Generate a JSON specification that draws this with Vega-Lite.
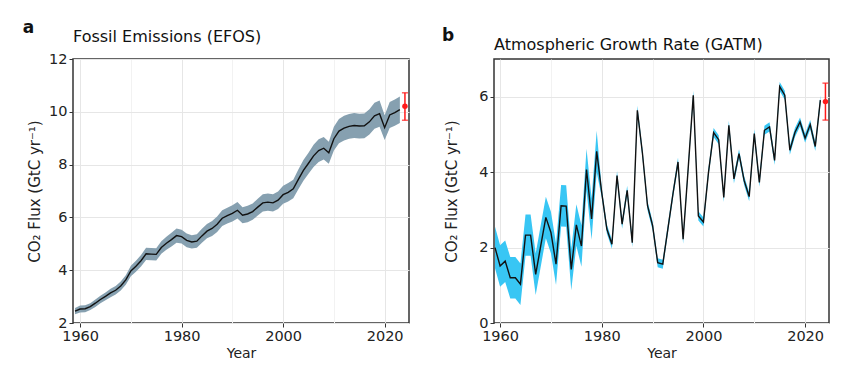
{
  "$schema": "https://vega.github.io/schema/vega-lite/v6.json",
  "background": "white",
  "padding": {"left": 22, "top": 19, "right": 5, "bottom": 2},
  "config": {
    "font": "DejaVu Sans",
    "view": {"stroke": "#333333", "strokeWidth": 1.5},
    "axis": {
      "labelFont": "DejaVu Sans", "titleFont": "DejaVu Sans",
      "labelFontSize": 14.5, "titleFontSize": 14, "titleFontWeight": "normal",
      "labelColor": "#222222", "titleColor": "#222222",
      "domain": false, "tickColor": "#333333", "tickSize": 4, "labelPadding": 2,
      "grid": true
    },
    "title": {"font": "DejaVu Sans", "color": "#111111"}
  },
  "datasets": {
    "fos": [
      {"year":1959,"value":2.45,"lo":2.33,"hi":2.57},
      {"year":1960,"value":2.53,"lo":2.40,"hi":2.66},
      {"year":1961,"value":2.54,"lo":2.41,"hi":2.67},
      {"year":1962,"value":2.62,"lo":2.49,"hi":2.75},
      {"year":1963,"value":2.75,"lo":2.61,"hi":2.89},
      {"year":1964,"value":2.89,"lo":2.75,"hi":3.03},
      {"year":1965,"value":3.01,"lo":2.86,"hi":3.16},
      {"year":1966,"value":3.14,"lo":2.98,"hi":3.30},
      {"year":1967,"value":3.24,"lo":3.08,"hi":3.40},
      {"year":1968,"value":3.40,"lo":3.23,"hi":3.57},
      {"year":1969,"value":3.63,"lo":3.45,"hi":3.81},
      {"year":1970,"value":3.97,"lo":3.77,"hi":4.17},
      {"year":1971,"value":4.15,"lo":3.94,"hi":4.36},
      {"year":1972,"value":4.36,"lo":4.14,"hi":4.58},
      {"year":1973,"value":4.62,"lo":4.39,"hi":4.85},
      {"year":1974,"value":4.61,"lo":4.38,"hi":4.84},
      {"year":1975,"value":4.60,"lo":4.37,"hi":4.83},
      {"year":1976,"value":4.86,"lo":4.62,"hi":5.10},
      {"year":1977,"value":5.02,"lo":4.77,"hi":5.27},
      {"year":1978,"value":5.16,"lo":4.90,"hi":5.42},
      {"year":1979,"value":5.31,"lo":5.04,"hi":5.58},
      {"year":1980,"value":5.27,"lo":5.01,"hi":5.53},
      {"year":1981,"value":5.13,"lo":4.87,"hi":5.39},
      {"year":1982,"value":5.07,"lo":4.82,"hi":5.32},
      {"year":1983,"value":5.10,"lo":4.85,"hi":5.36},
      {"year":1984,"value":5.30,"lo":5.04,"hi":5.57},
      {"year":1985,"value":5.48,"lo":5.21,"hi":5.75},
      {"year":1986,"value":5.58,"lo":5.30,"hi":5.86},
      {"year":1987,"value":5.74,"lo":5.45,"hi":6.03},
      {"year":1988,"value":5.97,"lo":5.67,"hi":6.27},
      {"year":1989,"value":6.07,"lo":5.77,"hi":6.37},
      {"year":1990,"value":6.15,"lo":5.84,"hi":6.46},
      {"year":1991,"value":6.27,"lo":5.96,"hi":6.58},
      {"year":1992,"value":6.08,"lo":5.78,"hi":6.38},
      {"year":1993,"value":6.13,"lo":5.82,"hi":6.44},
      {"year":1994,"value":6.22,"lo":5.91,"hi":6.53},
      {"year":1995,"value":6.39,"lo":6.07,"hi":6.71},
      {"year":1996,"value":6.55,"lo":6.22,"hi":6.88},
      {"year":1997,"value":6.58,"lo":6.25,"hi":6.91},
      {"year":1998,"value":6.55,"lo":6.22,"hi":6.88},
      {"year":1999,"value":6.65,"lo":6.32,"hi":6.98},
      {"year":2000,"value":6.86,"lo":6.52,"hi":7.20},
      {"year":2001,"value":6.95,"lo":6.60,"hi":7.30},
      {"year":2002,"value":7.08,"lo":6.73,"hi":7.43},
      {"year":2003,"value":7.44,"lo":7.07,"hi":7.81},
      {"year":2004,"value":7.78,"lo":7.39,"hi":8.17},
      {"year":2005,"value":8.05,"lo":7.65,"hi":8.45},
      {"year":2006,"value":8.33,"lo":7.91,"hi":8.75},
      {"year":2007,"value":8.53,"lo":8.10,"hi":8.96},
      {"year":2008,"value":8.62,"lo":8.19,"hi":9.05},
      {"year":2009,"value":8.45,"lo":8.03,"hi":8.87},
      {"year":2010,"value":8.98,"lo":8.53,"hi":9.43},
      {"year":2011,"value":9.27,"lo":8.81,"hi":9.73},
      {"year":2012,"value":9.38,"lo":8.91,"hi":9.85},
      {"year":2013,"value":9.45,"lo":8.98,"hi":9.92},
      {"year":2014,"value":9.48,"lo":9.01,"hi":9.95},
      {"year":2015,"value":9.46,"lo":8.99,"hi":9.93},
      {"year":2016,"value":9.47,"lo":9.00,"hi":9.94},
      {"year":2017,"value":9.62,"lo":9.14,"hi":10.10},
      {"year":2018,"value":9.85,"lo":9.36,"hi":10.34},
      {"year":2019,"value":9.93,"lo":9.43,"hi":10.43},
      {"year":2020,"value":9.40,"lo":8.93,"hi":9.87},
      {"year":2021,"value":9.88,"lo":9.39,"hi":10.37},
      {"year":2022,"value":9.97,"lo":9.47,"hi":10.47},
      {"year":2023,"value":10.08,"lo":9.58,"hi":10.58}
    ],
    "fosProj": [{"year":2024,"value":10.21,"lo":9.68,"hi":10.72}],
    "atm": [
      {"year":1959,"value":2.00,"lo":1.45,"hi":2.55},
      {"year":1960,"value":1.51,"lo":0.96,"hi":2.06},
      {"year":1961,"value":1.64,"lo":1.09,"hi":2.19},
      {"year":1962,"value":1.20,"lo":0.65,"hi":1.75},
      {"year":1963,"value":1.20,"lo":0.65,"hi":1.75},
      {"year":1964,"value":1.03,"lo":0.48,"hi":1.58},
      {"year":1965,"value":2.33,"lo":1.78,"hi":2.88},
      {"year":1966,"value":2.33,"lo":1.78,"hi":2.88},
      {"year":1967,"value":1.29,"lo":0.74,"hi":1.84},
      {"year":1968,"value":2.05,"lo":1.50,"hi":2.60},
      {"year":1969,"value":2.80,"lo":2.25,"hi":3.35},
      {"year":1970,"value":2.40,"lo":1.85,"hi":2.95},
      {"year":1971,"value":1.56,"lo":1.01,"hi":2.11},
      {"year":1972,"value":3.11,"lo":2.56,"hi":3.66},
      {"year":1973,"value":3.10,"lo":2.55,"hi":3.65},
      {"year":1974,"value":1.42,"lo":0.87,"hi":1.97},
      {"year":1975,"value":2.60,"lo":2.05,"hi":3.15},
      {"year":1976,"value":2.04,"lo":1.49,"hi":2.59},
      {"year":1977,"value":4.07,"lo":3.52,"hi":4.62},
      {"year":1978,"value":2.76,"lo":2.21,"hi":3.31},
      {"year":1979,"value":4.55,"lo":4.00,"hi":5.10},
      {"year":1980,"value":3.45,"lo":3.33,"hi":3.57},
      {"year":1981,"value":2.49,"lo":2.37,"hi":2.61},
      {"year":1982,"value":2.09,"lo":1.97,"hi":2.21},
      {"year":1983,"value":3.91,"lo":3.79,"hi":4.03},
      {"year":1984,"value":2.62,"lo":2.50,"hi":2.74},
      {"year":1985,"value":3.52,"lo":3.40,"hi":3.64},
      {"year":1986,"value":2.13,"lo":2.01,"hi":2.25},
      {"year":1987,"value":5.64,"lo":5.52,"hi":5.76},
      {"year":1988,"value":4.50,"lo":4.38,"hi":4.62},
      {"year":1989,"value":3.11,"lo":2.99,"hi":3.23},
      {"year":1990,"value":2.58,"lo":2.46,"hi":2.70},
      {"year":1991,"value":1.60,"lo":1.48,"hi":1.72},
      {"year":1992,"value":1.56,"lo":1.44,"hi":1.68},
      {"year":1993,"value":2.49,"lo":2.37,"hi":2.61},
      {"year":1994,"value":3.42,"lo":3.30,"hi":3.54},
      {"year":1995,"value":4.27,"lo":4.15,"hi":4.39},
      {"year":1996,"value":2.22,"lo":2.10,"hi":2.34},
      {"year":1997,"value":4.10,"lo":3.98,"hi":4.22},
      {"year":1998,"value":6.04,"lo":5.92,"hi":6.16},
      {"year":1999,"value":2.84,"lo":2.72,"hi":2.96},
      {"year":2000,"value":2.68,"lo":2.56,"hi":2.80},
      {"year":2001,"value":4.00,"lo":3.88,"hi":4.12},
      {"year":2002,"value":5.05,"lo":4.93,"hi":5.17},
      {"year":2003,"value":4.86,"lo":4.74,"hi":4.98},
      {"year":2004,"value":3.33,"lo":3.21,"hi":3.45},
      {"year":2005,"value":5.24,"lo":5.12,"hi":5.36},
      {"year":2006,"value":3.82,"lo":3.70,"hi":3.94},
      {"year":2007,"value":4.49,"lo":4.37,"hi":4.61},
      {"year":2008,"value":3.78,"lo":3.66,"hi":3.90},
      {"year":2009,"value":3.35,"lo":3.23,"hi":3.47},
      {"year":2010,"value":5.02,"lo":4.90,"hi":5.14},
      {"year":2011,"value":3.73,"lo":3.61,"hi":3.85},
      {"year":2012,"value":5.11,"lo":4.99,"hi":5.23},
      {"year":2013,"value":5.20,"lo":5.08,"hi":5.32},
      {"year":2014,"value":4.31,"lo":4.19,"hi":4.43},
      {"year":2015,"value":6.27,"lo":6.15,"hi":6.39},
      {"year":2016,"value":6.04,"lo":5.92,"hi":6.16},
      {"year":2017,"value":4.58,"lo":4.46,"hi":4.70},
      {"year":2018,"value":5.05,"lo":4.93,"hi":5.17},
      {"year":2019,"value":5.33,"lo":5.21,"hi":5.45},
      {"year":2020,"value":4.90,"lo":4.78,"hi":5.02},
      {"year":2021,"value":5.26,"lo":5.14,"hi":5.38},
      {"year":2022,"value":4.68,"lo":4.56,"hi":4.80},
      {"year":2023,"value":5.91,"lo":5.79,"hi":6.03}
    ],
    "atmProj": [{"year":2024,"value":5.87,"lo":5.38,"hi":6.36}]
  },
  "spacing": 32,
  "hconcat": [
    {
      "title": {"text": "a", "anchor": "start", "frame": "bounds", "fontSize": 17, "fontWeight": "bold", "offset": -9, "dx": -4},
      "vconcat": [
        {
          "width": 336, "height": 264,
          "title": {"text": "Fossil Emissions (EFOS)", "anchor": "start", "frame": "group", "fontSize": 16, "fontWeight": "normal", "offset": 6},
          "layer": [
            {
              "data": {"name": "fos"},
              "mark": {"type": "area", "color": "#86a0b0", "opacity": 1},
              "encoding": {
                "x": {"field": "year", "type": "quantitative", "title": "Year", "scale": {"domain": [1958.6, 2024.8], "nice": false, "zero": false},
                  "axis": {"values": [1960, 1970, 1980, 1990, 2000, 2010, 2020], "format": "d",
                    "labelExpr": "datum.value % 20 === 0 ? datum.label : ''",
                    "tickSize": {"condition": {"test": "datum.value % 20 === 0", "value": 4}, "value": 0},
                    "gridColor": {"condition": {"test": "datum.value % 20 === 0", "value": "#e6e6e6"}, "value": "#f2f2f2"},
                    "titlePadding": 4}},
                "y": {"field": "lo", "type": "quantitative", "title": "CO₂ Flux (GtC yr⁻¹)", "scale": {"domain": [2, 12], "nice": false, "zero": false},
                  "axis": {"values": [2, 3, 4, 5, 6, 7, 8, 9, 10, 11, 12],
                    "labelExpr": "datum.value % 2 === 0 ? datum.label : ''",
                    "tickSize": {"condition": {"test": "datum.value % 2 === 0", "value": 4}, "value": 0},
                    "gridColor": {"condition": {"test": "datum.value % 2 === 0", "value": "#e6e6e6"}, "value": "#f2f2f2"},
                    "titleFontSize": 15, "titlePadding": 6}},
                "y2": {"field": "hi"}
              }
            },
            {
              "data": {"name": "fos"},
              "mark": {"type": "line", "color": "#111111", "strokeWidth": 1.4},
              "encoding": {
                "x": {"field": "year", "type": "quantitative", "title": "Year"},
                "y": {"field": "value", "type": "quantitative", "title": "CO₂ Flux (GtC yr⁻¹)"}
              }
            },
            {
              "data": {"name": "fosProj"},
              "mark": {"type": "errorbar", "ticks": {"size": 6}, "color": "#ff1a1a", "thickness": 1.5},
              "encoding": {
                "x": {"field": "year", "type": "quantitative", "title": "Year"},
                "y": {"field": "lo", "type": "quantitative", "title": "CO₂ Flux (GtC yr⁻¹)"},
                "y2": {"field": "hi"}
              }
            },
            {
              "data": {"name": "fosProj"},
              "mark": {"type": "point", "filled": true, "color": "#ff1a1a", "size": 30, "opacity": 1},
              "encoding": {
                "x": {"field": "year", "type": "quantitative", "title": "Year"},
                "y": {"field": "value", "type": "quantitative", "title": "CO₂ Flux (GtC yr⁻¹)"}
              }
            }
          ]
        }
      ]
    },
    {
      "title": {"text": "b", "anchor": "start", "frame": "bounds", "fontSize": 17, "fontWeight": "bold", "offset": -9, "dx": -2},
      "vconcat": [
        {
          "width": 335, "height": 264,
          "title": {"text": "Atmospheric Growth Rate (GATM)", "anchor": "start", "frame": "group", "fontSize": 16, "fontWeight": "normal", "offset": 6},
          "layer": [
            {
              "data": {"name": "atm"},
              "mark": {"type": "area", "color": "#38c6f4", "opacity": 1},
              "encoding": {
                "x": {"field": "year", "type": "quantitative", "title": "Year", "scale": {"domain": [1958.8, 2024.7], "nice": false, "zero": false},
                  "axis": {"values": [1960, 1970, 1980, 1990, 2000, 2010, 2020], "format": "d",
                    "labelExpr": "datum.value % 20 === 0 ? datum.label : ''",
                    "tickSize": {"condition": {"test": "datum.value % 20 === 0", "value": 4}, "value": 0},
                    "gridColor": {"condition": {"test": "datum.value % 20 === 0", "value": "#e6e6e6"}, "value": "#f2f2f2"},
                    "titlePadding": 4}},
                "y": {"field": "lo", "type": "quantitative", "title": "CO₂ Flux (GtC yr⁻¹)", "scale": {"domain": [0, 7], "nice": false},
                  "axis": {"values": [0, 1, 2, 3, 4, 5, 6, 7],
                    "labelExpr": "datum.value % 2 === 0 ? datum.label : ''",
                    "tickSize": {"condition": {"test": "datum.value % 2 === 0", "value": 4}, "value": 0},
                    "gridColor": {"condition": {"test": "datum.value % 2 === 0", "value": "#e6e6e6"}, "value": "#f2f2f2"},
                    "titleFontSize": 15, "titlePadding": 19}},
                "y2": {"field": "hi"}
              }
            },
            {
              "data": {"name": "atm"},
              "mark": {"type": "line", "color": "#111111", "strokeWidth": 1.4},
              "encoding": {
                "x": {"field": "year", "type": "quantitative", "title": "Year"},
                "y": {"field": "value", "type": "quantitative", "title": "CO₂ Flux (GtC yr⁻¹)"}
              }
            },
            {
              "data": {"name": "atmProj"},
              "mark": {"type": "errorbar", "ticks": {"size": 6}, "color": "#ff1a1a", "thickness": 1.5},
              "encoding": {
                "x": {"field": "year", "type": "quantitative", "title": "Year"},
                "y": {"field": "lo", "type": "quantitative", "title": "CO₂ Flux (GtC yr⁻¹)"},
                "y2": {"field": "hi"}
              }
            },
            {
              "data": {"name": "atmProj"},
              "mark": {"type": "point", "filled": true, "color": "#ff1a1a", "size": 30, "opacity": 1},
              "encoding": {
                "x": {"field": "year", "type": "quantitative", "title": "Year"},
                "y": {"field": "value", "type": "quantitative", "title": "CO₂ Flux (GtC yr⁻¹)"}
              }
            }
          ]
        }
      ]
    }
  ]
}
